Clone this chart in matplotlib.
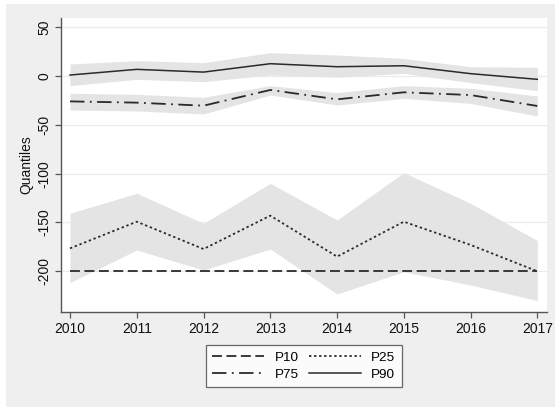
import matplotlib
matplotlib.use("Agg")
import matplotlib.pyplot as plt
from matplotlib.patches import Rectangle
from matplotlib.lines import Line2D

plt.rcParams['font.family'] = ['Liberation Sans', 'DejaVu Sans']

years = [2010, 2011, 2012, 2013, 2014, 2015, 2016, 2017]

# Quantile estimates
p10 = [-200, -200, -200, -200, -200, -200, -200, -200]
p25 = [-176.5, -149.2, -177.2, -143, -185, -149.2, -173, -200]
p75 = [-26, -27.3, -30.4, -14.3, -23.9, -16.7, -19.5, -30.7]
p90 = [1, 6.8, 4, 12.6, 9.5, 10.5, 2.4, -3.4]

# Confidence bands (lower, upper)
p25_lo = [-211.7, -178.2, -198.7, -177.2, -223.3, -200.5, -214, -230]
p25_hi = [-140.6, -120.1, -150.9, -109.9, -147.5, -99, -130.4, -168.5]
p75_lo = [-34.8, -35.8, -38.9, -19.5, -29.7, -22.9, -28, -41]
p75_hi = [-17.7, -18.8, -21.8, -9.9, -17, -9.9, -12.6, -20.5]
p90_lo = [-9.9, -3.4, -5.8, 1, -1.3, 2.7, -6.8, -15]
p90_hi = [12.3, 15.7, 13.6, 23.9, 21.5, 18, 9.5, 8.9]

yticks = [50, 0, -50, -100, -150, -200]

W, H = 555, 409
fig = plt.figure(figsize=(W / 100, H / 100), dpi=100)
fig.patch.set_facecolor('white')
bg = Rectangle((6 / W, 2 / H), 1 - 6 / W, (H - 6) / H,
               transform=fig.transFigure, facecolor='#efefef',
               edgecolor='none', zorder=-10)
fig.add_artist(bg)

ax = fig.add_axes([61 / W, 1 - 312 / H, (547 - 61) / W, (312 - 18) / H])
ax.set_zorder(1)
ax.set_facecolor('white')
ax.set_xlim(2009.865, 2017.145)
ax.set_ylim(-241.7, 59.4)

band = '#e4e4e4'
line = '#2a2a2a'
ax.fill_between(years, p25_lo, p25_hi, color=band, lw=0, zorder=1)
ax.fill_between(years, p75_lo, p75_hi, color=band, lw=0, zorder=1)
ax.fill_between(years, p90_lo, p90_hi, color=band, lw=0, zorder=1)

ls10 = (0, (5.5, 2.5))
ls25 = (0, (1.3, 1.5))
ls75 = (0, (8, 3, 1, 3))
ax.plot(years, p10, color=line, lw=1.3, linestyle=ls10, zorder=3)
ax.plot(years, p25, color=line, lw=1.3, linestyle=ls25, zorder=3)
ax.plot(years, p75, color=line, lw=1.3, linestyle=ls75, zorder=3)
ax.plot(years, p90, color=line, lw=1.1, linestyle='-', zorder=3)

ax.set_yticks(yticks)
ax.set_yticklabels([str(v) for v in yticks], rotation=90, va='center')
ax.set_xticks(years)
ax.set_xticklabels([str(y) for y in years])
ax.grid(axis='y', color='#ececec', lw=0.9, zorder=0)
ax.set_axisbelow(True)

for s in ['top', 'right']:
    ax.spines[s].set_visible(False)
for s in ['left', 'bottom']:
    ax.spines[s].set_color('#555555')
    ax.spines[s].set_linewidth(1.0)
ax.tick_params(axis='both', direction='out', length=4, width=0.9,
               color='#555555', labelsize=10, labelcolor='#111111', pad=3)
ax.set_ylabel('Quantiles', fontsize=10, color='#111111', labelpad=3)

handles = [
    Line2D([], [], color=line, lw=1.3, linestyle=ls10),
    Line2D([], [], color=line, lw=1.3, linestyle=ls75),
    Line2D([], [], color=line, lw=1.3, linestyle=ls25),
    Line2D([], [], color=line, lw=1.1, linestyle='-'),
]
labels = ['P10', 'P75', 'P25', 'P90']
leg = fig.legend(handles, labels, ncol=2, loc='center',
                 bbox_to_anchor=(304 / W, 1 - 366 / H), frameon=True,
                 fancybox=False, fontsize=9.7, handlelength=3.8,
                 columnspacing=0.8, handletextpad=0.8, labelspacing=0.35,
                 borderpad=0.45)
leg.get_frame().set_edgecolor('#444444')
leg.get_frame().set_linewidth(0.9)
leg.get_frame().set_facecolor('white')

fig.savefig('out.png', dpi=100, facecolor=fig.get_facecolor())
